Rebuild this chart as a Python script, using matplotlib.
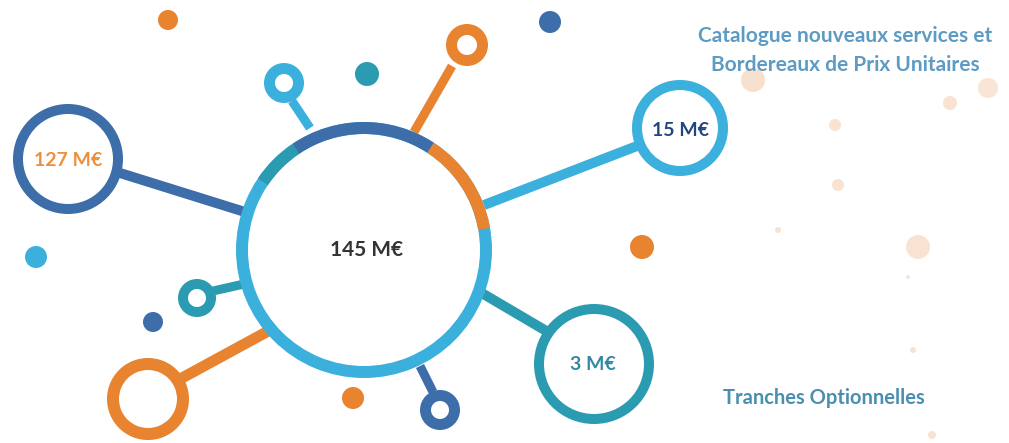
import matplotlib
matplotlib.use("Agg")
import matplotlib.pyplot as plt
from matplotlib.patches import Wedge, Circle
import numpy as np

# ---- data ----
labels = ["145 M€", "127 M€", "15 M€", "3 M€"]
values = [145, 127, 15, 3]
caption_lines = ["Catalogue nouveaux services et", "Bordereaux de Prix Unitaires"]
caption_bottom = "Tranches Optionnelles"

# ---- style ----
LB = "#3bb0dc"   # light blue
DB = "#3e6ea9"   # dark blue
OR = "#e8832f"   # orange
TE = "#2b9bb1"   # teal
PX = 0.72        # points per pixel at dpi 100

fig = plt.figure(figsize=(10.09, 4.43), dpi=100)
ax = fig.add_axes([0, 0, 1, 1])
ax.set_xlim(0, 1009)
ax.set_ylim(443, 0)
ax.axis("off")
fig.patch.set_facecolor("white")

FONT = ["Lato", "DejaVu Sans"]

def ring(cx, cy, r_out, w, color, t1=0, t2=360, z=3):
    ax.add_patch(Wedge((cx, cy), r_out, -t2, -t1, width=w, facecolor=color,
                       edgecolor="none", zorder=z))

def dot(cx, cy, r, color, alpha=1.0, z=2):
    ax.add_patch(Circle((cx, cy), r, facecolor=color, edgecolor="none", alpha=alpha, zorder=z))

def line(x0, y0, x1, y1, w, color, z=2):
    ax.plot([x0, x1], [y0, y1], color=color, lw=w * PX, solid_capstyle="butt", zorder=z)

# central hub
CX, CY, CR, CW = 364, 250, 128, 12
# spokes
line(120, 173, 245, 212, 10, DB)            # to 127
line(292, 101, 310, 128, 9, LB)             # small top-left lollipop
line(452, 66, 414, 132, 9, OR)              # top orange lollipop
line(484, 205, 637, 146, 10, LB)            # to 15
line(480, 292, 548, 332, 10, TE)            # to 3
line(213, 291, 244, 284, 9, TE)             # left small lollipop
line(182, 378, 272, 329, 11, OR)            # bottom-left orange
line(433, 392, 420, 366, 9, DB)             # bottom lollipop

dot(CX, CY, CR - 1, "white", z=2.5)
ring(CX, CY, CR, CW, LB, 0, 360, z=3)
ring(CX, CY, CR, CW, OR, 10, 57, z=3.1)
ring(CX, CY, CR, CW, DB, 57, 124, z=3.1)
ring(CX, CY, CR, CW, TE, 124, 146, z=3.1)

# value circles
dot(68, 159, 53, "white", z=2.5); ring(68, 159, 55, 10, DB)
dot(680, 128, 46, "white", z=2.5); ring(680, 128, 48, 10, LB)
dot(594, 364, 59, "white", z=2.5); ring(594, 364, 60, 10, TE)

# small lollipop rings
ring(284, 83, 20, 11, LB)
ring(467, 45, 21, 11, OR)
ring(197, 298, 19, 10, TE)
ring(440, 410, 20, 11, DB)
dot(148, 399, 39, "white", z=2.5)
ring(148, 399, 41, 12, OR)

# solid dots
dot(168, 20, 10, OR)
dot(367, 74, 12, TE)
dot(550, 22, 11, DB)
dot(36, 257, 11, LB)
dot(153, 322, 10, DB)
dot(353, 398, 11, OR)
dot(642, 247, 12, OR)

# faint peach dots
PE = "#f3c7a6"
for (x, y, r, a) in [(753, 80, 12, 0.55), (988, 88, 10, 0.45), (950, 103, 7, 0.5),
                     (835, 125, 6, 0.5), (838, 185, 6, 0.5), (778, 230, 3, 0.5),
                     (918, 247, 12, 0.5), (908, 277, 2, 0.5), (913, 350, 3, 0.5),
                     (932, 435, 4, 0.5)]:
    dot(x, y, r, PE, alpha=a, z=1)

# labels
ax.text(CX + 3, CY, labels[0], ha="center", va="center", fontsize=15, fontweight="bold",
        color="#333333", family=FONT, zorder=5)
ax.text(68, 160, labels[1], ha="center", va="center", fontsize=14, fontweight="bold",
        color="#ee8f3c", family=FONT, zorder=5)
ax.text(680, 131, labels[2], ha="center", va="center", fontsize=14, fontweight="bold",
        color="#24467e", family=FONT, zorder=5)
ax.text(593, 365, labels[3], ha="center", va="center", fontsize=14, fontweight="bold",
        color="#3488a4", family=FONT, zorder=5)

for yy, txt in zip([36, 65], caption_lines):
    ax.text(845, yy, txt, ha="center", va="center", fontsize=15, fontweight="bold",
            color="#5e9bc3", family=FONT, zorder=5)
ax.text(824, 398, caption_bottom, ha="center", va="center", fontsize=14.5, fontweight="bold",
        color="#4a8fb0", family=FONT, zorder=5)

fig.savefig("out.png", dpi=100, facecolor="white")
